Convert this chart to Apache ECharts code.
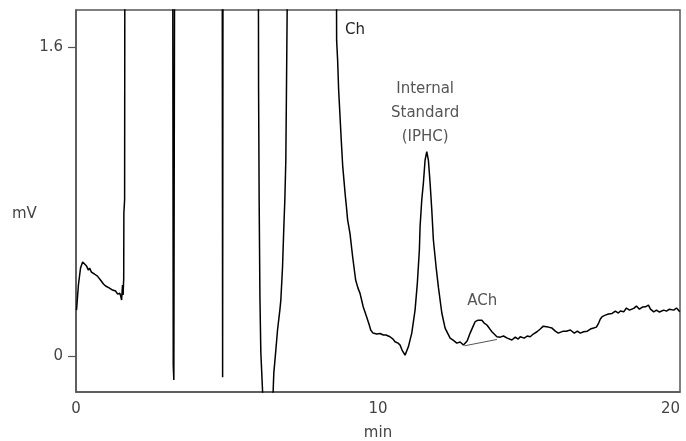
<!DOCTYPE html>
<html>
<head>
<meta charset="utf-8">
<script src="https://cdn.jsdelivr.net/npm/echarts@6/dist/echarts.min.js"></script>
<style>
html,body{margin:0;padding:0;background:#fff;}
#chart{width:686px;height:441px;}
</style>
</head>
<body>
<div id="chart"></div>
<script>
// Time (min) and signal (mV); values above/below the frame are off-scale
var timeMin = [
  0.017,0.03,0.08,0.15,0.22,0.28,0.35,0.41,0.45,0.51,0.61,0.71,0.81,0.91,0.98,1.04,1.11,1.21,1.31,1.38,1.45,1.48,1.51,1.54,1.56,1.58,1.585,1.61,1.62,
  3.20,3.22,3.24,3.27,
  4.84,4.855,4.87,
  6.035,6.045,6.065,6.09,6.12,6.18,6.19,6.35,6.51,6.527,6.55,6.617,6.673,6.75,6.783,6.839,6.882,6.915,6.948,6.972,6.992,7.0,
  8.62,8.630,8.663,8.697,8.740,8.783,8.829,8.872,8.915,8.949,8.995,9.071,9.161,9.260,9.337,9.403,9.512,9.625,9.711,9.758,9.834,9.957,10.07,10.176,10.265,10.398,10.498,10.564,10.663,10.730,10.796,10.896,
  11.005,11.118,11.227,11.303,11.370,11.393,11.449,11.503,11.559,11.615,11.668,11.725,11.781,11.834,11.924,12.0,12.113,12.222,12.388,12.487,12.610,12.720,12.829,12.862,
  12.952,13.051,13.151,13.217,13.317,13.439,13.516,13.605,13.682,13.771,13.847,13.937,14.046,14.156,14.279,14.434,14.544,14.643,14.710,14.842,14.942,15.041,15.141,15.264,15.373,15.473,15.539,15.638,15.761,15.871,15.970,
  16.036,16.136,16.235,16.368,16.501,16.600,16.700,16.809,16.932,17.032,17.141,17.231,17.307,17.363,17.420,17.529,17.629,17.751,17.861,17.960,18.027,18.136,18.226,18.325,18.468,18.557,18.657,18.756,18.856,18.955,
  19.022,19.131,19.221,19.320,19.463,19.552,19.652,19.794,19.884,19.993
];
var signalMV = [
  0.238,0.264,0.368,0.456,0.487,0.482,0.466,0.445,0.456,0.435,0.425,0.414,0.394,0.373,0.363,0.373,0.352,0.342,0.337,0.321,0.326,0.311,0.290,0.368,0.316,0.404,0.74,0.81,2.5,
  2.5,-0.047,-0.124,2.5,
  2.5,-0.109,2.5,
  2.5,1.4,0.8,0.31,0.02,-0.19,-0.25,-0.5,-0.25,-0.186,-0.088,0.031,0.135,0.238,0.29,0.461,0.668,0.808,1.015,1.43,1.792,2.5,
  2.2,1.636,1.533,1.378,1.248,1.119,0.989,0.911,0.834,0.782,0.704,0.637,0.513,0.394,0.352,0.326,0.254,0.202,0.161,0.135,0.119,0.114,0.117,0.109,0.109,0.100,0.088,0.074,0.067,0.057,0.031,0.005,
  0.048,0.119,0.238,0.378,0.549,0.670,0.808,0.896,1.015,1.058,1.015,0.896,0.756,0.601,0.461,0.357,0.223,0.145,0.093,0.083,0.067,0.073,0.057,0.053,
  0.078,0.119,0.155,0.178,0.186,0.186,0.171,0.161,0.145,0.126,0.114,0.100,0.098,0.104,0.093,0.083,0.098,0.088,0.100,0.093,0.104,0.100,0.114,0.126,0.140,0.155,0.161,0.150,0.145,0.129,0.119,
  0.119,0.129,0.129,0.135,0.119,0.129,0.119,0.126,0.129,0.140,0.145,0.150,0.171,0.192,0.204,0.212,0.218,0.221,0.233,0.223,0.233,0.229,0.249,0.238,0.247,0.259,0.243,0.254,0.255,0.264,
  0.243,0.229,0.238,0.228,0.238,0.233,0.243,0.238,0.249,0.229
];
// ACh integration baseline
var baselineTime = [12.862, 13.937];
var baselineMV = [0.053, 0.086];
// Peak annotations
var peakNames = ['Ch', 'Internal\nStandard\n(IPHC)', 'ACh'];
var peakLabelTime = [9.24, 11.56, 13.45];
var peakLabelMV = [1.688, 1.259, 0.285];
var peakLabelColor = ['#222', '#555', '#555'];
// Axis ticks
var yTicks = [0, 1.6];
var xTicks = [0, 10, 20];

var trace = timeMin.map(function(t, i){ return [t, signalMV[i]]; });
var base = baselineTime.map(function(t, i){ return [t, baselineMV[i]]; });
var marks = peakNames.map(function(n, i){
  return { name: n, coord: [peakLabelTime[i], peakLabelMV[i]], value: n, label: { color: peakLabelColor[i] } };
});

var font = "'DejaVu Sans', sans-serif";
var chart = echarts.init(document.getElementById('chart'), null, {renderer: 'canvas'});
chart.setOption({
  animation: false,
  backgroundColor: '#fff',
  grid: { left: 76, right: 6, top: 10, bottom: 49, outerBoundsMode: 'none', containLabel: false,
    show: true, borderColor: '#555', borderWidth: 1.5, backgroundColor: 'transparent' },
  xAxis: {
    type: 'value', min: 0, max: 20, interval: 10,
    name: 'min', nameLocation: 'middle', nameGap: 34,
    nameTextStyle: { color: '#444', fontSize: 15, fontFamily: font },
    axisLine: { show: true, onZero: false, lineStyle: { color: '#555', width: 1.5 } },
    axisTick: { show: false },
    axisLabel: { color: '#444', fontSize: 15, fontFamily: font, margin: 10,
      customValues: xTicks, alignMaxLabel: 'right' },
    splitLine: { show: false }
  },
  yAxis: {
    type: 'value', min: -0.186, max: 1.792,
    axisLine: { show: true, onZero: false, lineStyle: { color: '#555', width: 1.5 } },
    axisTick: { show: true, length: 8, lineStyle: { color: '#555', width: 1.2 }, customValues: yTicks },
    axisLabel: { color: '#444', fontSize: 15, fontFamily: font, margin: 13, customValues: yTicks,
      formatter: function(v){ return v === 0 ? '0' : String(v); } },
    splitLine: { show: false }
  },
  graphic: [{
    type: 'text', left: 12, top: 207,
    style: { text: 'mV', fill: '#444', font: '15px ' + font }
  }],
  series: [{
    type: 'line', data: trace, symbol: 'none', clip: true,
    lineStyle: { color: '#000', width: 1.5 },
    markPoint: {
      symbol: 'circle', symbolSize: 0,
      label: { show: true, position: 'inside', color: '#555', fontSize: 15, fontFamily: font, lineHeight: 24,
        formatter: function(p){ return p.name; } },
      data: marks
    },
    z: 3
  }, {
    type: 'line', data: base, symbol: 'none',
    lineStyle: { color: '#555', width: 1 }, z: 2
  }]
});
</script>
</body>
</html>
